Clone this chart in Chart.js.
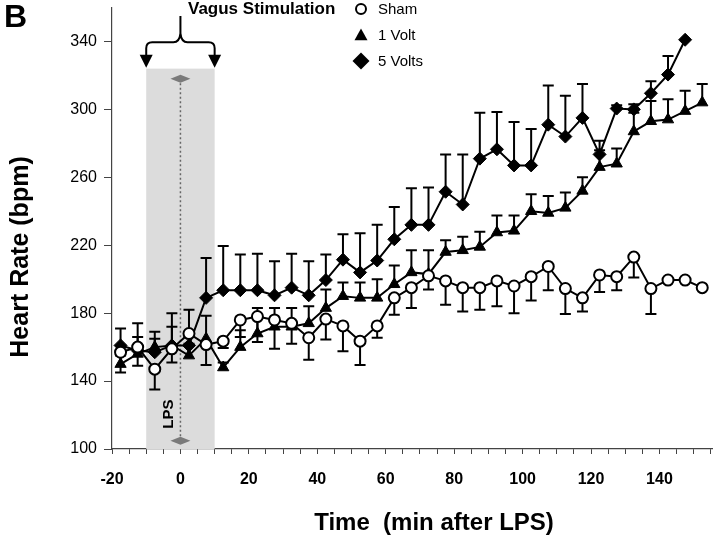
<!DOCTYPE html>
<html lang="en">
  <head>
    <meta charset="UTF-8" />
    <title>Heart Rate - Vagus Stimulation</title>
    <style>
      html, body { margin: 0; padding: 0; background: #fff; }
      canvas { display: block; }
    </style>
  </head>
  <body>
    <canvas id="hrChart" width="720" height="541"></canvas>

    <script src="https://cdn.jsdelivr.net/npm/chart.js"></script>
    <script>
      // time points (min after LPS), 5-min bins
      const times = [-17.5, -12.5, -7.5, -2.5, 2.5, 7.5, 12.5, 17.5, 22.5, 27.5, 32.5, 37.5,
        42.5, 47.5, 52.5, 57.5, 62.5, 67.5, 72.5, 77.5, 82.5, 87.5, 92.5, 97.5, 102.5, 107.5,
        112.5, 117.5, 122.5, 127.5, 132.5, 137.5, 142.5, 147.5, 152.5];

      const sham = [157, 160, 147, 159, 168, 161.5, 163.5, 176, 178, 176, 174, 165.5,
        176.5, 172.5, 163.5, 172.5, 189, 195, 202, 199, 195, 195, 199, 196, 201.5, 207.5,
        194.5, 189, 202.5, 201.5, 213, 194.5, 199.5, 199.5, 195];
      const shamErr = [12, 11, 12, 8, 6, 12, 4, 10, 15, 17, 12, 13,
        12, 15, 14, 7, 10, 12, 8, 14, 14, 13, 15, 16, 14, 14,
        15, 8, 10, 8, 12, 15, 0, 0, 0];

      const oneVolt = [150, 156, 160, 161, 155, 165, 148, 160, 168, 172, 172, 174,
        183, 190, 189, 189, 197, 204, 203, 216, 217, 219, 227.5, 228.5, 240, 239,
        242, 252, 266, 268, 287, 293, 294, 299, 304];
      const oneVoltErr = [5, 18, 5, 19, 27, 13.5, 3, 10, 15, 11, 11, 10,
        11, 8, 9, 11, 11, 13, 14, 7, 8, 9, 10, 9, 10, 10,
        9, 8, 10, 9, 11, 12, 12, 12, 11];

      const fiveVolts = [161, 158, 157, 161, 161, 189, 193.5, 193.5, 193.5, 190.5, 195, 190.5,
        199.5, 211.5, 204, 211, 223.5, 232, 232, 251.5, 244, 271, 276.5, 267, 267, 291,
        284, 295, 273.5, 300.5, 300, 309.5, 320.5, 341];
      const fiveVoltsErr = [10, 8, 12, 11, 5, 23.5, 26, 21, 21.5, 20, 20, 20,
        15, 15, 23, 21, 19, 21.5, 22, 22, 29.5, 27, 22, 25.5, 21.5, 23,
        24, 20, 8, 2, 3, 7, 11, 0];

      const xLabels = [-20, 0, 20, 40, 60, 80, 100, 120, 140];
      const yTicks = [100, 140, 180, 220, 260, 300, 340];
      const stimWindow = [-10, 10];
      const legendNames = ["Sham", "1 Volt", "5 Volts"];

      const FONT = "'Liberation Sans', Arial, sans-serif";

      function pts(values) {
        return values.map((v, i) => ({ x: times[i], y: v }));
      }

      function marker(ctx, style, x, y, r) {
        ctx.beginPath();
        if (style === "circle") {
          ctx.arc(x, y, r, 0, Math.PI * 2);
          ctx.fillStyle = "#fff";
          ctx.fill();
          ctx.lineWidth = 2;
          ctx.strokeStyle = "#000";
          ctx.stroke();
          return;
        }
        if (style === "triangle") {
          ctx.moveTo(x, y - r);
          ctx.lineTo(x + r, y + r * 0.8);
          ctx.lineTo(x - r, y + r * 0.8);
        } else {
          ctx.moveTo(x, y - r);
          ctx.lineTo(x + r, y);
          ctx.lineTo(x, y + r);
          ctx.lineTo(x - r, y);
        }
        ctx.closePath();
        ctx.fillStyle = "#000";
        ctx.fill();
      }

      const decorations = {
        id: "decorations",
        beforeDatasetsDraw(chart) {
          const { ctx, scales: { x, y } } = chart;
          ctx.save();
          // stimulation window shading
          const xa = x.getPixelForValue(stimWindow[0]);
          const xb = x.getPixelForValue(stimWindow[1]);
          const top = y.getPixelForValue(324);
          ctx.fillStyle = "#dcdcdc";
          ctx.fillRect(xa, top, xb - xa, y.bottom - top);

          // LPS dotted line + grey diamonds
          const xl = x.getPixelForValue(0);
          const yTop = y.getPixelForValue(318);
          const yBot = y.getPixelForValue(104.8);
          ctx.strokeStyle = "#666";
          ctx.lineWidth = 1.5;
          ctx.setLineDash([2, 2.5]);
          ctx.beginPath();
          ctx.moveTo(xl, yTop);
          ctx.lineTo(xl, yBot);
          ctx.stroke();
          ctx.setLineDash([]);
          ctx.fillStyle = "#7a7a7a";
          [yTop, yBot].forEach((py) => {
            ctx.beginPath();
            ctx.moveTo(xl - 10, py);
            ctx.lineTo(xl, py - 4);
            ctx.lineTo(xl + 10, py);
            ctx.lineTo(xl, py + 4);
            ctx.closePath();
            ctx.fill();
          });

          ctx.save();
          ctx.translate(xl - 12, y.getPixelForValue(120.5));
          ctx.rotate(-Math.PI / 2);
          ctx.fillStyle = "#000";
          ctx.font = "bold 15px " + FONT;
          ctx.textAlign = "center";
          ctx.textBaseline = "middle";
          ctx.fillText("LPS", 0, 0);
          ctx.restore();

          // error bars
          ctx.strokeStyle = "#000";
          ctx.lineWidth = 2;
          chart.data.datasets.forEach((ds) => {
            ds.err.forEach((e, j) => {
              if (!e) return;
              const px = x.getPixelForValue(times[j]);
              const p0 = y.getPixelForValue(ds.data[j].y);
              const p1 = y.getPixelForValue(ds.data[j].y + ds.errDir * e);
              ctx.beginPath();
              ctx.moveTo(px, p0);
              ctx.lineTo(px, p1);
              ctx.moveTo(px - 5.5, p1);
              ctx.lineTo(px + 5.5, p1);
              ctx.stroke();
            });
          });
          ctx.restore();
        },
        afterDraw(chart) {
          const { ctx, scales: { x, y } } = chart;
          ctx.save();
          // curly brace with arrows over the stimulation window
          const xa = x.getPixelForValue(stimWindow[0]);
          const xb = x.getPixelForValue(stimWindow[1]);
          const xm = x.getPixelForValue(0);
          const yArrow = y.getPixelForValue(324.5);
          const yBar = y.getPixelForValue(339.5);
          const yTip = y.getPixelForValue(355);
          ctx.strokeStyle = "#000";
          ctx.lineWidth = 2;
          ctx.beginPath();
          ctx.moveTo(xa, yArrow - 12);
          ctx.lineTo(xa, yBar + 6);
          ctx.quadraticCurveTo(xa, yBar, xa + 6, yBar);
          ctx.lineTo(xm - 7, yBar);
          ctx.quadraticCurveTo(xm - 1, yBar, xm, yBar - 9);
          ctx.lineTo(xm, yTip);
          ctx.moveTo(xb, yArrow - 12);
          ctx.lineTo(xb, yBar + 6);
          ctx.quadraticCurveTo(xb, yBar, xb - 6, yBar);
          ctx.lineTo(xm + 7, yBar);
          ctx.quadraticCurveTo(xm + 1, yBar, xm, yBar - 9);
          ctx.stroke();
          ctx.fillStyle = "#000";
          [xa, xb].forEach((px) => {
            ctx.beginPath();
            ctx.moveTo(px - 6.5, yArrow - 13);
            ctx.lineTo(px + 6.5, yArrow - 13);
            ctx.lineTo(px, yArrow);
            ctx.closePath();
            ctx.fill();
          });

          ctx.fillStyle = "#000";
          ctx.textBaseline = "middle";
          ctx.textAlign = "left";
          ctx.font = "bold 17px " + FONT;
          ctx.fillText("Vagus Stimulation", 188, 9);

          // legend
          const styles = ["circle", "triangle", "diamond"];
          const sizes = [5, 6.5, 8.5];
          const rows = [9, 35, 61];
          ctx.font = "15px " + FONT;
          legendNames.forEach((name, i) => {
            marker(ctx, styles[i], 361, rows[i], sizes[i]);
            ctx.fillStyle = "#000";
            ctx.fillText(name, 378, rows[i] + 1);
          });

          // panel letter
          ctx.font = "bold 32px " + FONT;
          ctx.textBaseline = "alphabetic";
          ctx.fillText("B", 4, 27);

          // axis titles
          ctx.textAlign = "center";
          ctx.textBaseline = "middle";
          ctx.font = "bold 24px " + FONT;
          ctx.fillText("Time  (min after LPS)", 434, 523);
          ctx.save();
          ctx.translate(21, 257);
          ctx.rotate(-Math.PI / 2);
          ctx.font = "bold 25px " + FONT;
          ctx.fillText("Heart Rate (bpm)", 0, 0);
          ctx.restore();
          ctx.restore();
        },
      };

      const minorX = [];
      for (let t = -20; t <= 155; t += 5) minorX.push(t);

      const canvas = document.querySelector("#hrChart");
      const chart = new Chart(canvas, {
        type: "line",
        data: {
          datasets: [
            {
              label: legendNames[0],
              data: pts(sham),
              err: shamErr,
              errDir: -1,
              borderColor: "#000",
              borderWidth: 2,
              pointStyle: "circle",
              pointRadius: 5.5,
              pointBackgroundColor: "#fff",
              pointBorderColor: "#000",
              pointBorderWidth: 2,
            },
            {
              label: legendNames[1],
              data: pts(oneVolt),
              err: oneVoltErr,
              errDir: 1,
              borderColor: "#000",
              borderWidth: 2,
              pointStyle: "triangle",
              pointRadius: 6.5,
              pointBackgroundColor: "#000",
              pointBorderColor: "#000",
              pointBorderWidth: 1,
            },
            {
              label: legendNames[2],
              data: pts(fiveVolts),
              err: fiveVoltsErr,
              errDir: 1,
              borderColor: "#000",
              borderWidth: 2,
              pointStyle: "rectRot",
              pointRadius: 6.5,
              pointBackgroundColor: "#000",
              pointBorderColor: "#000",
              pointBorderWidth: 1,
            },
          ],
        },
        options: {
          responsive: false,
          animation: false,
          devicePixelRatio: 1,
          events: [],
          layout: { padding: { top: 6, right: 0, bottom: 0, left: 0 } },
          elements: { line: { tension: 0 } },
          plugins: {
            legend: { display: false },
            tooltip: { enabled: false },
          },
          scales: {
            x: {
              type: "linear",
              min: -20,
              max: 155.5,
              afterBuildTicks: (axis) => {
                axis.ticks = minorX.map((v) => ({ value: v }));
              },
              afterFit: (scale) => {
                scale.height = 92;
                scale.paddingLeft = 0;
                scale.paddingRight = 0;
              },
              ticks: {
                autoSkip: false,
                maxRotation: 0,
                padding: 16,
                color: "#000",
                font: { family: FONT, size: 16, weight: "bold" },
                callback: (v) => (xLabels.includes(v) ? String(v) : ""),
              },
              grid: {
                drawOnChartArea: false,
                drawTicks: true,
                tickLength: 5,
                color: "#444",
              },
              border: { display: true, color: "#444", width: 1.2 },
            },
            y: {
              min: 100,
              max: 360,
              afterBuildTicks: (axis) => {
                axis.ticks = yTicks.map((v) => ({ value: v }));
              },
              afterFit: (scale) => {
                scale.width = 112;
                scale.paddingTop = 0;
                scale.paddingBottom = 0;
              },
              ticks: {
                padding: 7,
                color: "#000",
                font: { family: FONT, size: 16 },
              },
              grid: {
                drawOnChartArea: false,
                drawTicks: true,
                tickLength: 8,
                color: "#444",
              },
              border: { display: true, color: "#444", width: 1.2 },
            },
          },
        },
        plugins: [decorations],
      });
    </script>
  </body>
</html>
